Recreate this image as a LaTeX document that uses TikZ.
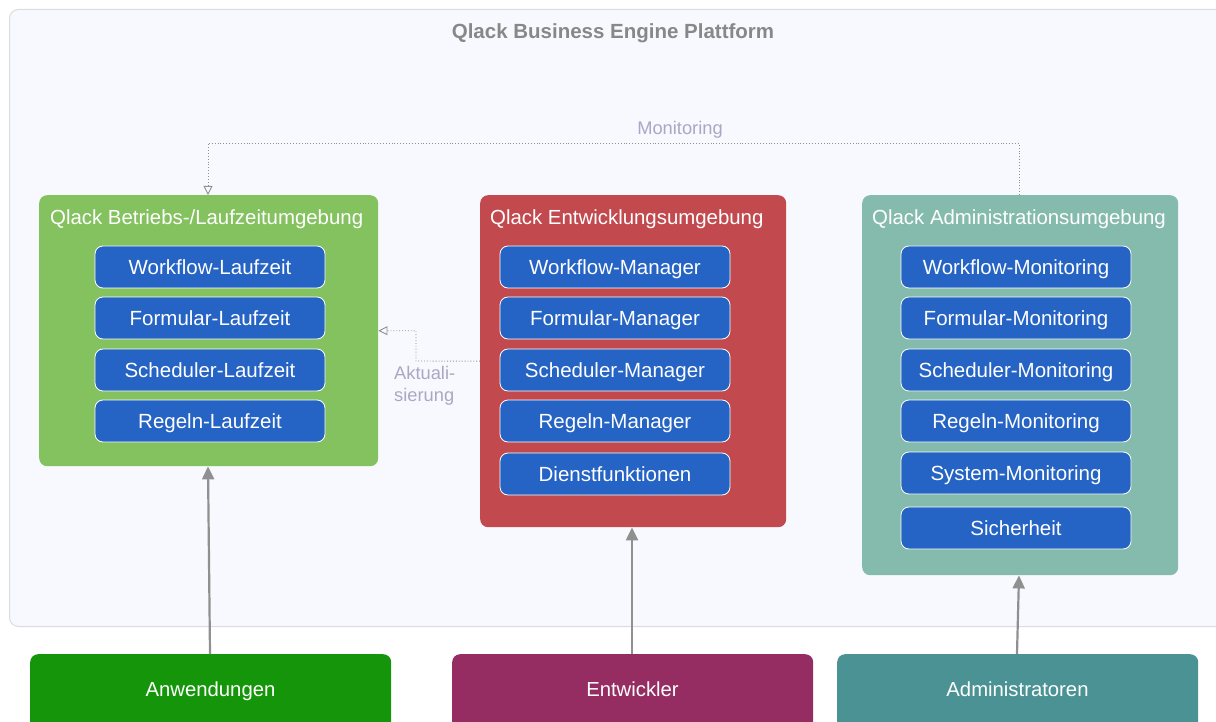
\documentclass[tikz,border=0pt]{standalone}
\usepackage{fontspec}
\setmainfont{Liberation Sans}
\usetikzlibrary{arrows.meta}
\definecolor{bgfill}{HTML}{F8F9FE}
\definecolor{bgline}{HTML}{DCDCDC}
\definecolor{titlegray}{HTML}{888888}
\definecolor{cgreen}{HTML}{84C25F}
\definecolor{cred}{HTML}{C2494E}
\definecolor{cteal}{HTML}{85BBAD}
\definecolor{cblue}{HTML}{2563C4}
\definecolor{agreen}{HTML}{15960A}
\definecolor{apurple}{HTML}{952D62}
\definecolor{ateal}{HTML}{4A9294}
\definecolor{arrgray}{HTML}{909090}
\definecolor{lblgray}{HTML}{A8A8C4}
\tikzset{
  captxt/.style={text height=14.6pt, text depth=0pt},
  container/.style={rounded corners=8pt, draw=none, anchor=north west, inner sep=0pt},
  ctitle/.style={anchor=west, text=white, font=\fontsize{20.4}{24}\selectfont, inner sep=0pt, captxt},
  compbox/.style={rounded corners=8pt, fill=cblue, draw=white, line width=0.8pt, minimum width=230pt, minimum height=42pt, text=white, font=\fontsize{20.5}{24}\selectfont, inner sep=0pt, captxt},
  actor/.style={rounded corners=8pt, minimum width=361pt, minimum height=80pt, text=white, inner sep=0pt, anchor=north west},
  actortext/.style={text=white, font=\fontsize{20.3}{24}\selectfont, inner sep=0pt, captxt},
  solidarr/.style={draw=arrgray, line width=2.2pt, -{Triangle[length=13pt,width=12pt]}},
  dotarr/.style={draw=arrgray, line width=0.9pt, dotted, -{Triangle[open,length=9pt,width=9pt]}},
  lbl/.style={text=lblgray, font=\fontsize{18.3}{22}\selectfont, inner sep=0pt}
}
\begin{document}
\begin{tikzpicture}[x=1pt,y=-1pt]
\useasboundingbox (0,0) rectangle (1216,722);
% outer platform box
\node[rounded corners=9pt, fill=bgfill, draw=bgline, line width=1pt, minimum width=1215pt, minimum height=617pt, anchor=north west, inner sep=0pt] (plat) at (9,9) {};
\node[font=\bfseries\fontsize{20.5}{24}\selectfont, text=titlegray, inner sep=0pt, captxt] (ptitle) at (613,31) {Qlack Business Engine Plattform};

% containers
\node[container, fill=cgreen, minimum width=339pt, minimum height=271pt] (run) at (39,195) {};
\node[container, fill=cred, minimum width=306pt, minimum height=332pt] (dev) at (480,195) {};
\node[container, fill=cteal, minimum width=316pt, minimum height=380pt] (adm) at (862,195) {};

\node[ctitle] (runt) at (50,217) {Qlack Betriebs-/Laufzeitumgebung};
\node[ctitle] (devt) at (490,217) {Qlack Entwicklungsumgebung};
\node[ctitle] (admt) at (872,217) {Qlack Administrationsumgebung};

% runtime components
\node[compbox] (r1) at (210,267) {Workflow-Laufzeit};
\node[compbox] (r2) at (210,318) {Formular-Laufzeit};
\node[compbox] (r3) at (210,370) {Scheduler-Laufzeit};
\node[compbox] (r4) at (210,421) {Regeln-Laufzeit};

% development components
\node[compbox] (d1) at (615,267) {Workflow-Manager};
\node[compbox] (d2) at (615,318) {Formular-Manager};
\node[compbox] (d3) at (615,370) {Scheduler-Manager};
\node[compbox] (d4) at (615,421) {Regeln-Manager};
\node[compbox] (d5) at (615,474) {Dienstfunktionen};

% admin components
\node[compbox] (a1) at (1016,267) {Workflow-Monitoring};
\node[compbox] (a2) at (1016,318) {Formular-Monitoring};
\node[compbox] (a3) at (1016,370) {Scheduler-Monitoring};
\node[compbox] (a4) at (1016,421) {Regeln-Monitoring};
\node[compbox] (a5) at (1016,473) {System-Monitoring};
\node[compbox] (a6) at (1016,528) {Sicherheit};

% actors
\node[actor, fill=agreen] (app) at (30,654) {};
\node[actor, fill=apurple] (ent) at (452,654) {};
\node[actor, fill=ateal] (admr) at (837,654) {};
\node[actortext] (appt) at (210.5,689) {Anwendungen};
\node[actortext] (entt) at (632.5,689) {Entwickler};
\node[actortext] (admrt) at (1017.5,689) {Administratoren};

% solid arrows
\draw[solidarr] (app.north -| 210,0) -- (run.south -| 208,0);
\draw[solidarr] (ent.north -| 632,0) -- (dev.south -| 632,0);
\draw[solidarr] (admr.north -| 1017,0) -- (adm.south -| 1019,0);

% dotted arrows
\coordinate (mr) at (1019,143);
\coordinate (ml) at (208,143);
\draw[dotarr] (adm.north -| mr) -- (mr) -- (ml) -- (run.north -| ml);
\node[lbl, text height=13.1pt, text depth=0pt] (monl) at (680,128) {Monitoring};

\coordinate (ak) at (416,361);
\draw[dotarr] (dev.west) -- (ak) |- (run.east);
\node[lbl, anchor=north west, align=left] (akl) at (394,366) {Aktuali-\\sierung};
\end{tikzpicture}
\end{document}
